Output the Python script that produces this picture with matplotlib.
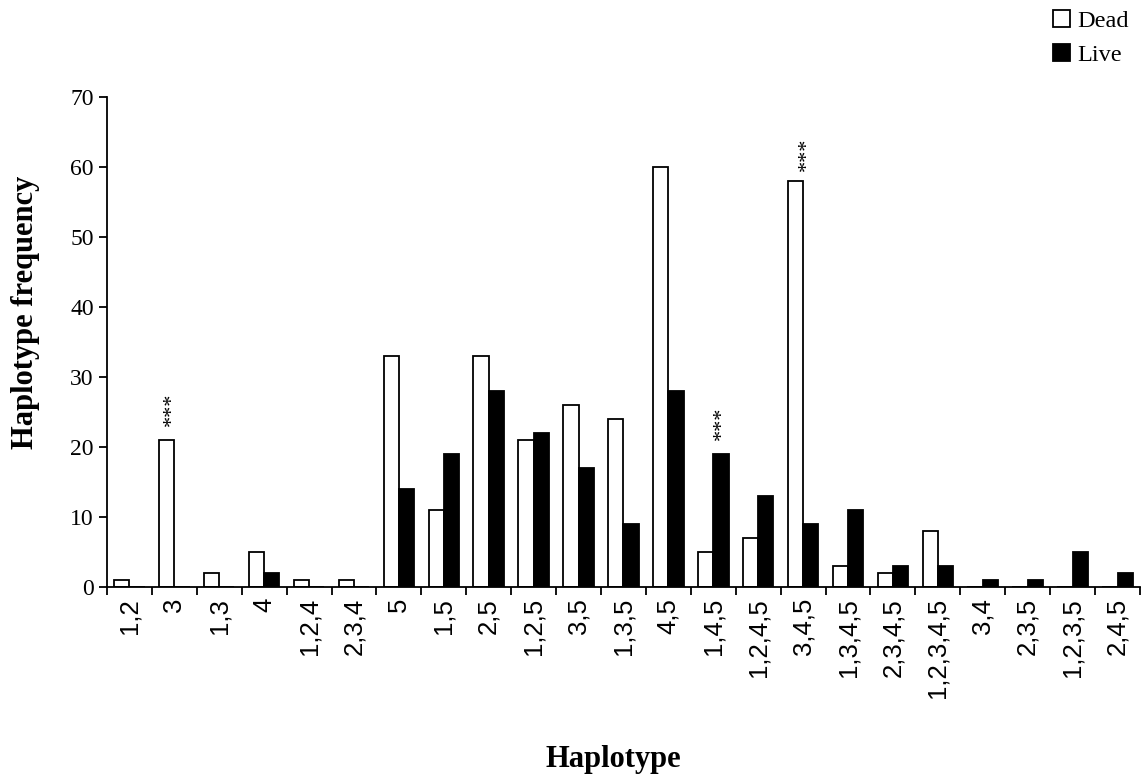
import numpy as np
import matplotlib
matplotlib.use("Agg")
import matplotlib.pyplot as plt
from matplotlib.patches import Patch

# haplotype categories and counts
haplotypes = ["1,2", "3", "1,3", "4", "1,2,4", "2,3,4", "5", "1,5", "2,5", "1,2,5",
              "3,5", "1,3,5", "4,5", "1,4,5", "1,2,4,5", "3,4,5", "1,3,4,5",
              "2,3,4,5", "1,2,3,4,5", "3,4", "2,3,5", "1,2,3,5", "2,4,5"]
dead = [1, 21, 2, 5, 1, 1, 33, 11, 33, 21, 26, 24, 60, 5, 7, 58, 3, 2, 8, 0, 0, 0, 0]
live = [0, 0, 0, 2, 0, 0, 14, 19, 28, 22, 17, 9, 28, 19, 13, 9, 11, 3, 3, 1, 1, 5, 2]

# significance marks: (category index, x offset, y value)
stars = [(1, -0.05, 23.0), (13, 0.2, 21.0), (15, 0.1, 59.5)]

serif = "Liberation Serif"
sans = "Liberation Sans"

fig = plt.figure(figsize=(11.45, 7.81), dpi=100)
ax = fig.add_axes([0.0934, 0.2484, 0.9022, 0.6274])

x = np.arange(len(haplotypes))
w = 0.34
ax.bar(x - w / 2, dead, width=w, color="white", edgecolor="black", linewidth=1.3)
ax.bar(x + w / 2, live, width=w, color="black", edgecolor="black", linewidth=1.3)

for i, dx, yv in stars:
    ax.text(i + dx, yv, "***", rotation=90, ha="center", va="bottom",
            fontsize=16, family=serif)

ax.set_xlim(-0.5, len(haplotypes) - 0.5)
ax.set_ylim(0, 70)
ax.set_yticks(range(0, 71, 10))
ax.spines["top"].set_visible(False)
ax.spines["right"].set_visible(False)
ax.spines["left"].set_linewidth(1.3)
ax.spines["bottom"].set_linewidth(1.3)

ax.set_xticks(x)
ax.set_xticklabels(haplotypes, rotation=90, fontsize=18.5, family=sans)
ax.set_xticks(np.arange(-0.5, len(haplotypes)), minor=True)
ax.tick_params(axis="x", which="major", length=0, pad=8)
ax.tick_params(axis="x", which="minor", length=6, width=1.3, direction="out")
ax.tick_params(axis="y", length=6, width=1.3, direction="out", labelsize=17)
for lab in ax.get_yticklabels():
    lab.set_family(serif)

fig.text(0.022, 0.6, "Haplotype frequency", rotation=90, ha="center", va="center",
         fontsize=22, fontweight="bold", family=serif)
fig.text(0.536, 0.027, "Haplotype", ha="center", va="center",
         fontsize=22, fontweight="bold", family=serif)

handles = [Patch(facecolor="white", edgecolor="black", linewidth=1.3, label="Dead"),
           Patch(facecolor="black", edgecolor="black", linewidth=1.3, label="Live")]
fig.legend(handles=handles, loc="upper right", bbox_to_anchor=(1.005, 1.015), frameon=False,
           prop={"family": serif, "size": 17.5}, handlelength=0.7, handleheight=0.7,
           handletextpad=0.3, labelspacing=0.5)

fig.savefig("out.png", dpi=100)
